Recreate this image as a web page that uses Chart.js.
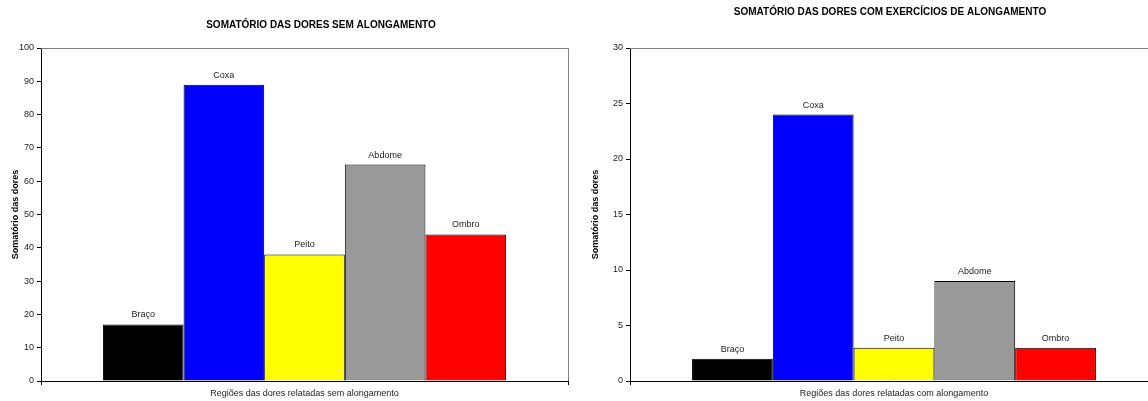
<!DOCTYPE html>
<html>
<head>
<meta charset="utf-8">
<script src="https://cdn.jsdelivr.net/npm/chart.js@4"></script>
<style>
  html, body { margin: 0; padding: 0; background: #fff; overflow: hidden; width: 1148px; height: 401px; }
  .box { position: absolute; top: 0; }
</style>
</head>
<body>
<div class="box" style="left:0"><canvas id="graficoSem" width="580" height="401"></canvas></div>
<div class="box" style="left:580px"><canvas id="graficoCom" width="590" height="401"></canvas></div>
<script>
// regiões e somatórios
const regioes = ["Braço", "Coxa", "Peito", "Abdome", "Ombro"];
const doresSem = [17, 89, 38, 65, 44];
const doresCom = [2, 24, 3, 9, 3];
const ticksSem = [0, 10, 20, 30, 40, 50, 60, 70, 80, 90, 100];
const ticksCom = [0, 5, 10, 15, 20, 25, 30];
const cores = ["#000000", "#0000ff", "#ffff00", "#999999", "#ff0000"];

Chart.defaults.font.family = "'Liberation Sans', Arial, sans-serif";
Chart.defaults.color = "#222";

// nome da região acima de cada barra
const rotulosBarras = {
  id: "rotulosBarras",
  afterDatasetsDraw(chart) {
    const ctx = chart.ctx;
    ctx.save();
    ctx.font = "9px 'Liberation Sans', Arial, sans-serif";
    ctx.fillStyle = "#222";
    ctx.textAlign = "center";
    ctx.textBaseline = "bottom";
    chart.data.datasets.forEach((ds, i) => {
      const bar = chart.getDatasetMeta(i).data[0];
      ctx.fillText(ds.label, bar.x, bar.y - 5);
    });
    ctx.restore();
  }
};

// título do gráfico (posição própria, como no Excel)
const titulo = {
  id: "titulo",
  afterDraw(chart, args, opts) {
    const ctx = chart.ctx;
    ctx.save();
    ctx.font = "bold 10px 'Liberation Sans', Arial, sans-serif";
    ctx.fillStyle = "#000";
    ctx.textAlign = "center";
    ctx.textBaseline = "middle";
    ctx.fillText(opts.texto, opts.x, opts.y);
    ctx.restore();
  }
};

// borda cinza de cima e da direita da área de plotagem
const moldura = {
  id: "moldura",
  beforeDatasetsDraw(chart) {
    const { ctx, chartArea: a } = chart;
    ctx.save();
    ctx.strokeStyle = "#808080";
    ctx.lineWidth = 1;
    ctx.beginPath();
    ctx.moveTo(a.left, Math.round(a.top) + 0.5);
    ctx.lineTo(Math.round(a.right) + 0.5, Math.round(a.top) + 0.5);
    ctx.lineTo(Math.round(a.right) + 0.5, a.bottom);
    ctx.stroke();
    ctx.restore();
  }
};

function criarGrafico(id, valores, ticksY, textoTitulo, tituloX, tituloY, rotuloX, larguraEixoY) {
  new Chart(document.getElementById(id), {
    type: "bar",
    data: {
      labels: [""],
      datasets: regioes.map((r, i) => ({
        label: r,
        data: [valores[i]],
        backgroundColor: cores[i],
        borderColor: "#000",
        borderWidth: 1,
        categoryPercentage: 0.765,
        barPercentage: 1
      }))
    },
    options: {
      responsive: false,
      animation: false,
      layout: { padding: { top: 48, right: 12, left: 0, bottom: 0 } },
      plugins: {
        legend: { display: false },
        tooltip: { enabled: false },
        titulo: { texto: textoTitulo, x: tituloX, y: tituloY }
      },
      scales: {
        x: {
          grid: { offset: true, drawOnChartArea: false, tickLength: 4, color: "#000" },
          border: { color: "#000" },
          ticks: { display: false },
          afterFit: s => { s.height = 20; },
          title: { display: true, text: rotuloX, font: { size: 9 }, color: "#222", padding: { top: 2, bottom: 2 } }
        },
        y: {
          min: 0,
          max: ticksY[ticksY.length - 1],
          afterBuildTicks: s => { s.ticks = ticksY.map(v => ({ value: v })); },
          afterFit: s => { s.width = larguraEixoY; },
          grid: { drawOnChartArea: false, tickLength: 4, color: "#000" },
          border: { color: "#000" },
          ticks: { font: { size: 9 }, color: "#222", padding: 3 },
          title: { display: true, text: "Somatório das dores", font: { size: 9, weight: "bold" }, color: "#000", padding: { top: 10, bottom: 0 } }
        }
      }
    },
    plugins: [moldura, rotulosBarras, titulo]
  });
}

criarGrafico("graficoSem", doresSem, ticksSem, "SOMATÓRIO DAS DORES SEM ALONGAMENTO", 321, 25,
  "Regiões das dores relatadas sem alongamento", 41);
criarGrafico("graficoCom", doresCom, ticksCom, "SOMATÓRIO DAS DORES COM EXERCÍCIOS DE ALONGAMENTO", 310, 12,
  "Regiões das dores relatadas com alongamento", 50);
</script>
</body>
</html>
